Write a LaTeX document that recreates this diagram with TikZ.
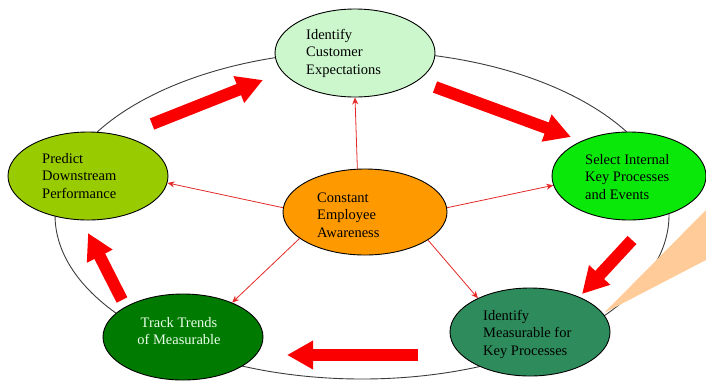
\documentclass[tikz,border=0pt]{standalone}
\usepackage{fontspec}
\setmainfont{Liberation Serif}
\usetikzlibrary{arrows.meta,shapes.geometric}

\definecolor{cCust}{RGB}{204,247,204}
\definecolor{cPred}{RGB}{153,204,0}
\definecolor{cSel}{RGB}{10,232,10}
\definecolor{cAware}{RGB}{255,153,0}
\definecolor{cTrend}{RGB}{0,122,0}
\definecolor{cMeas}{RGB}{46,140,92}
\definecolor{cPeach}{RGB}{255,204,153}
\definecolor{cLink}{RGB}{228,40,40}
\definecolor{cBlock}{RGB}{250,0,0}
\definecolor{cRing}{RGB}{60,60,60}

\begin{document}
\begin{tikzpicture}[x=1pt,y=-1pt,
  bubble/.style={ellipse, draw=black, line width=0.9pt, inner sep=0pt},
  lbl/.style={font=\fontsize{14.5}{17.5}\selectfont, align=left, inner sep=0pt, anchor=west},
  link/.style={draw=cLink, line width=0.8pt, -{Stealth[length=7pt,width=6pt]}},
  blockarrow/.style={draw=cBlock, line width=12pt, -{Triangle[length=26pt,width=27pt]}}
]
\useasboundingbox (0,0) rectangle (706,381);

% outer cycle ring
\draw[cRing, line width=0.9pt] (362,215) ellipse [x radius=307, y radius=164];

% callout pointer at the right edge
\coordinate (pk) at (604,313);
\coordinate (pu) at (706,210);
\coordinate (pd) at (706,260);
\fill[cPeach] (pk) -- (pu) -- (pd) -- cycle;

% stages of the cycle
\node[bubble, fill=cCust, minimum width=160pt, minimum height=88pt] (cust) at (355,53) {};
\node[bubble, fill=cPred, minimum width=160pt, minimum height=88pt] (pred) at (88,176) {};
\node[bubble, fill=cSel, minimum width=154pt, minimum height=88pt] (sel) at (629,176) {};
\node[bubble, fill=cAware, minimum width=164pt, minimum height=86pt] (aw) at (365,212) {};
\node[bubble, fill=cTrend, minimum width=160pt, minimum height=86pt] (trend) at (183,337) {};
\node[bubble, fill=cMeas, minimum width=160pt, minimum height=88pt] (meas) at (530,332) {};

% stage labels
\node[lbl] (tcust) at (306,53) {Identify\\Customer\\Expectations};
\node[lbl] (tpred) at (42,176) {Predict\\Downstream\\Performance};
\node[lbl] (tsel) at (585,177) {Select Internal\\Key Processes\\and Events};
\node[lbl] (taw) at (317,215) {Constant\\Employee\\Awareness};
\node[lbl, align=center, anchor=center, text=green!8!white] (ttrend) at (179,331) {Track Trends\\of Measurable};
\node[lbl] (tmeas) at (483,334) {Identify\\Measurable for\\Key Processes};

% links from the hub
\draw[link] (aw.100) -- (cust.south);
\draw[link] (aw.177) -- (pred.355);
\draw[link] (aw.3) -- (sel.187);
\draw[link] (aw.202) -- (trend.35);
\draw[link] (aw.336) -- (meas.147);

% cycle direction arrows
\coordinate (b1s) at (152,124); \coordinate (b1e) at (263,80);
\coordinate (b2s) at (435,87);  \coordinate (b2e) at (571,137);
\coordinate (b3s) at (632,240); \coordinate (b3e) at (582,294);
\coordinate (b4s) at (418,355); \coordinate (b4e) at (287,355);
\coordinate (b5s) at (122,300); \coordinate (b5e) at (88,233);
\draw[blockarrow] (b1s) -- (b1e);
\draw[blockarrow] (b2s) -- (b2e);
\draw[blockarrow] (b3s) -- (b3e);
\draw[blockarrow] (b4s) -- (b4e);
\draw[blockarrow] (b5s) -- (b5e);
\end{tikzpicture}
\end{document}
